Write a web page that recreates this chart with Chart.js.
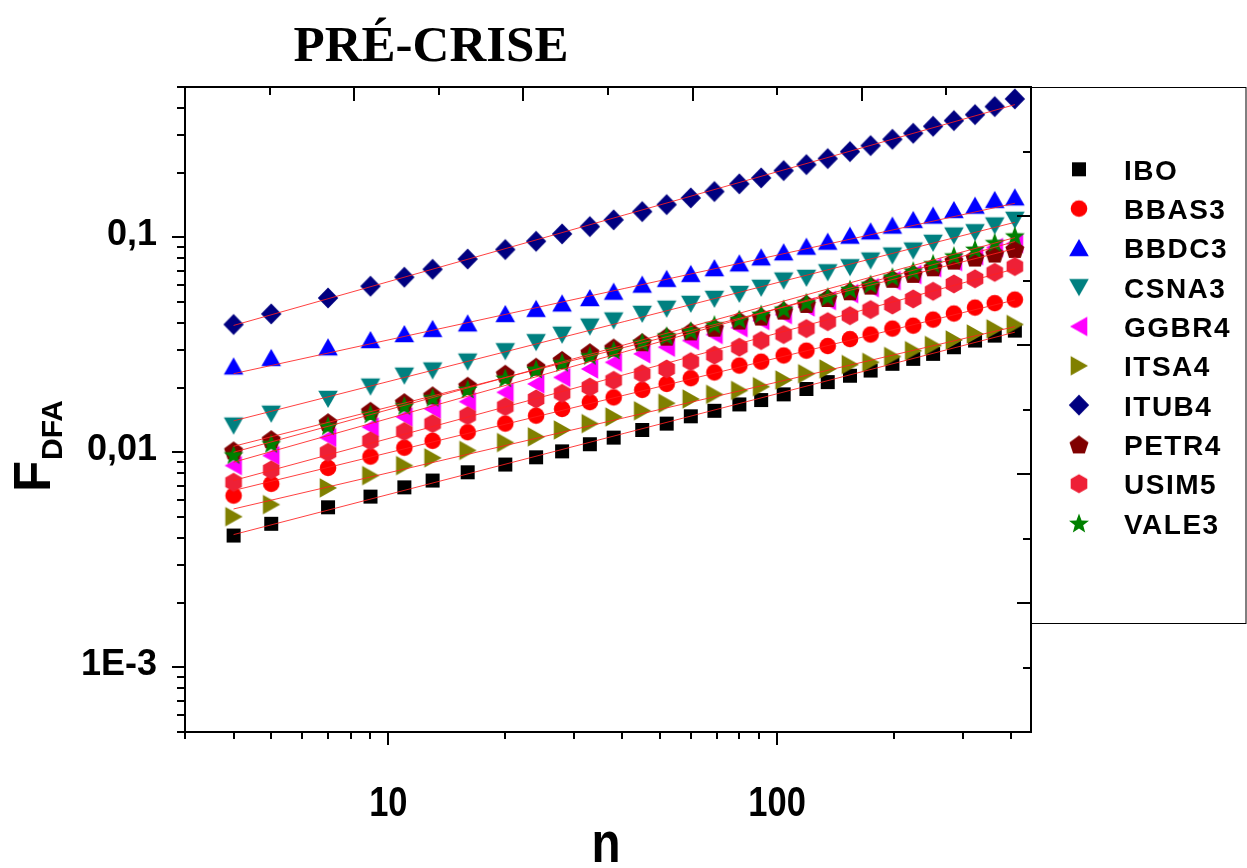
<!DOCTYPE html>
<html>
<head>
<meta charset="utf-8">
<title>PRÉ-CRISE</title>
<script src="https://cdn.jsdelivr.net/npm/chart.js@4.4.0/dist/chart.umd.min.js"></script>
<style>
  html, body { margin: 0; padding: 0; background: #fff; }
  canvas { display: block; }
</style>
</head>
<body>
<canvas id="dfaChart" width="1247" height="868"></canvas>
<script>
// box sizes n
var boxSizes = [4, 5, 7, 9, 11, 13, 16, 20, 24, 28, 33, 38, 45, 52, 60, 69, 80, 91, 104, 119, 135, 154, 174, 198, 224, 252, 285, 323, 363, 409];

// F_DFA for each asset
var IBO   = [0.00410, 0.00465, 0.00555, 0.00622, 0.00687, 0.00739, 0.00807, 0.00877, 0.00948, 0.0101, 0.0109, 0.0117, 0.0127, 0.0136, 0.0147, 0.0156, 0.0167, 0.0175, 0.0186, 0.0197, 0.0212, 0.0227, 0.0240, 0.0258, 0.0272, 0.0287, 0.0308, 0.0331, 0.0349, 0.0368];
var BBAS3 = [0.00629, 0.00713, 0.00846, 0.00955, 0.0105, 0.0113, 0.0124, 0.0136, 0.0148, 0.0159, 0.0171, 0.0180, 0.0195, 0.0208, 0.0221, 0.0235, 0.0253, 0.0264, 0.0282, 0.0297, 0.0312, 0.0336, 0.0353, 0.0376, 0.0388, 0.0414, 0.0442, 0.0471, 0.0494, 0.0513];
var BBDC3 = [0.0251, 0.0275, 0.0308, 0.0333, 0.0355, 0.0375, 0.0398, 0.0440, 0.0465, 0.0493, 0.0522, 0.0559, 0.0603, 0.0641, 0.0676, 0.0719, 0.0757, 0.0807, 0.0852, 0.0905, 0.0955, 0.1018, 0.1066, 0.1134, 0.1205, 0.1262, 0.1341, 0.1404, 0.1493, 0.1535];
var CSNA3 = [0.0133, 0.0151, 0.0177, 0.0202, 0.0227, 0.0240, 0.0264, 0.0295, 0.0325, 0.0352, 0.0384, 0.0410, 0.0440, 0.0465, 0.0490, 0.0517, 0.0545, 0.0582, 0.0629, 0.0647, 0.0687, 0.0725, 0.0779, 0.0822, 0.0867, 0.0942, 0.1018, 0.1055, 0.1134, 0.1205];
var GGBR4 = [0.00867, 0.00965, 0.0117, 0.0131, 0.0146, 0.0159, 0.0172, 0.0190, 0.0208, 0.0223, 0.0244, 0.0262, 0.0287, 0.0308, 0.0331, 0.0353, 0.0380, 0.0410, 0.0437, 0.0474, 0.0508, 0.0547, 0.0583, 0.0629, 0.0671, 0.0723, 0.0771, 0.0822, 0.0896, 0.0935];
var ITSA4 = [0.00502, 0.00571, 0.00683, 0.00779, 0.00867, 0.00942, 0.0102, 0.0111, 0.0118, 0.0127, 0.0136, 0.0146, 0.0156, 0.0169, 0.0177, 0.0186, 0.0194, 0.0202, 0.0217, 0.0232, 0.0244, 0.0256, 0.0262, 0.0279, 0.0297, 0.0314, 0.0333, 0.0355, 0.0375, 0.0393];
var ITUB4 = [0.0393, 0.0440, 0.0522, 0.0592, 0.0652, 0.0710, 0.0792, 0.0877, 0.0958, 0.1037, 0.1121, 0.1205, 0.1317, 0.1419, 0.1525, 0.1632, 0.1772, 0.1889, 0.2043, 0.2178, 0.2323, 0.2503, 0.2670, 0.2857, 0.3045, 0.3283, 0.3490, 0.3721, 0.4054, 0.4402];
var PETR4 = [0.0102, 0.0115, 0.0138, 0.0156, 0.0171, 0.0184, 0.0204, 0.0232, 0.0250, 0.0269, 0.0292, 0.0307, 0.0325, 0.0345, 0.0365, 0.0380, 0.0410, 0.0428, 0.0456, 0.0490, 0.0522, 0.0561, 0.0596, 0.0641, 0.0676, 0.0725, 0.0779, 0.0805, 0.0840, 0.0883];
var USIM5 = [0.00725, 0.00828, 0.0100, 0.0113, 0.0125, 0.0136, 0.0148, 0.0163, 0.0177, 0.0188, 0.0201, 0.0216, 0.0232, 0.0244, 0.0264, 0.0283, 0.0308, 0.0331, 0.0353, 0.0376, 0.0405, 0.0432, 0.0461, 0.0484, 0.0517, 0.0561, 0.0607, 0.0641, 0.0687, 0.0731];
var VALE3 = [0.00976, 0.0110, 0.0133, 0.0151, 0.0165, 0.0180, 0.0197, 0.0222, 0.0244, 0.0262, 0.0282, 0.0299, 0.0325, 0.0349, 0.0368, 0.0393, 0.0417, 0.0440, 0.0465, 0.0499, 0.0530, 0.0575, 0.0607, 0.0656, 0.0700, 0.0757, 0.0822, 0.0883, 0.0948, 0.1018];

var seriesNames  = ['IBO', 'BBAS3', 'BBDC3', 'CSNA3', 'GGBR4', 'ITSA4', 'ITUB4', 'PETR4', 'USIM5', 'VALE3'];
var seriesValues = [IBO, BBAS3, BBDC3, CSNA3, GGBR4, ITSA4, ITUB4, PETR4, USIM5, VALE3];
var seriesColors = ['#000000', '#ff0000', '#0000ff', '#008080', '#ff00ff', '#808000', '#000080', '#800000', '#ee2036', '#008000'];
var seriesShapes = ['square', 'circle', 'triUp', 'triDown', 'triLeft', 'triRight', 'diamond', 'pentagon', 'hexagon', 'star'];

// linear fits (log-log), value at first and last n
var fitStart = [0.00414, 0.00664, 0.0232, 0.0140, 0.00899, 0.00545, 0.0389, 0.01066, 0.00739, 0.0100];
var fitEnd   = [0.0362, 0.0511, 0.1439, 0.1174, 0.0955, 0.0384, 0.414, 0.0886, 0.0713, 0.0997];

var xLabelValues = [10, 100];
var xLabels = ['10', '100'];
var yLabelValues = [0.1, 0.01, 0.001];
var yLabels = ['0,1', '0,01', '1E-3'];

function makeMarker(shape, color) {
    var c = document.createElement('canvas');
    c.width = 26; c.height = 26;
    var g = c.getContext('2d');
    g.fillStyle = color;
    g.translate(13, 13);
    g.beginPath();
    var i, a;
    if (shape == 'square') {
        g.rect(-7, -7, 14, 14);
    } else if (shape == 'circle') {
        g.arc(0, 0, 8.3, 0, Math.PI * 2);
    } else if (shape == 'triUp') {
        g.moveTo(0, -9); g.lineTo(9.8, 8.3); g.lineTo(-9.8, 8.3);
    } else if (shape == 'triDown') {
        g.moveTo(0, 9); g.lineTo(9.8, -8.3); g.lineTo(-9.8, -8.3);
    } else if (shape == 'triLeft') {
        g.moveTo(-9, 0); g.lineTo(8.3, -9.8); g.lineTo(8.3, 9.8);
    } else if (shape == 'triRight') {
        g.moveTo(9, 0); g.lineTo(-8.3, -9.8); g.lineTo(-8.3, 9.8);
    } else if (shape == 'diamond') {
        g.moveTo(0, -10.5); g.lineTo(10.2, 0); g.lineTo(0, 10.5); g.lineTo(-10.2, 0);
    } else if (shape == 'pentagon') {
        for (i = 0; i < 5; i++) {
            a = -Math.PI / 2 + i * 2 * Math.PI / 5;
            g.lineTo(10 * Math.cos(a), 1 + 10 * Math.sin(a));
        }
    } else if (shape == 'hexagon') {
        for (i = 0; i < 6; i++) {
            a = -Math.PI / 2 + i * Math.PI / 3;
            g.lineTo(9.6 * Math.cos(a), 9.6 * Math.sin(a));
        }
    } else if (shape == 'star') {
        for (i = 0; i < 10; i++) {
            a = -Math.PI / 2 + i * Math.PI / 5;
            var r = (i % 2 == 0) ? 10.5 : 4.4;
            g.lineTo(r * Math.cos(a), 1 + r * Math.sin(a));
        }
    }
    g.closePath();
    g.fill();
    return c;
}

var datasets = [];
for (var s = 0; s < seriesNames.length; s++) {
    datasets.push({
        type: 'scatter',
        label: seriesNames[s],
        data: boxSizes.map(function (n, k) { return { x: n, y: seriesValues[s][k] }; }),
        pointStyle: makeMarker(seriesShapes[s], seriesColors[s]),
        order: seriesNames.length - s
    });
}
for (var f = 0; f < seriesNames.length; f++) {
    datasets.push({
        type: 'line',
        label: seriesNames[f] + ' fit',
        data: [{ x: boxSizes[0], y: fitStart[f] }, { x: boxSizes[boxSizes.length - 1], y: fitEnd[f] }],
        borderColor: 'rgba(255,30,30,0.85)',
        borderWidth: 1,
        pointRadius: 0,
        fill: false,
        order: 0
    });
}

function tickLine(ctx, x1, y1, x2, y2) {
    ctx.beginPath();
    ctx.moveTo(x1, y1);
    ctx.lineTo(x2, y2);
    ctx.stroke();
}

// axes, ticks, labels, title and legend box
var frame = {
    id: 'frame',
    afterDraw: function (chart) {
        var ctx = chart.ctx, a = chart.chartArea;
        var xs = chart.scales.x, ys = chart.scales.y, xt = chart.scales.xTop, yr = chart.scales.yRight;
        var L = Math.round(a.left), R = Math.round(a.right), T = Math.round(a.top), B = Math.round(a.bottom);
        ctx.save();
        ctx.strokeStyle = '#000';
        ctx.lineWidth = 2;
        ctx.strokeRect(L, T, R - L, B - T);

        // bottom log ticks (outward)
        var d, m, v, p;
        for (d = 1; d <= 100; d *= 10) {
            for (m = 1; m <= 9; m++) {
                v = m * d;
                if (v < xs.min || v > xs.max) continue;
                p = Math.round(xs.getPixelForValue(v));
                tickLine(ctx, p, B, p, B + (m == 1 ? 13 : 7));
            }
        }
        // left log ticks (outward)
        for (d = 0.0001; d <= 0.1; d *= 10) {
            for (m = 1; m <= 9; m++) {
                v = m * d;
                if (v < ys.min * 0.999 || v > ys.max * 1.001) continue;
                p = Math.round(ys.getPixelForValue(v));
                tickLine(ctx, L, p, L - (m == 1 ? 13 : 8), p);
            }
        }
        // top and right ticks (inward)
        for (var k = 1; k < 10; k++) {
            p = Math.round(xt.getPixelForValue(k));
            tickLine(ctx, p, T, p, T + (k % 2 == 0 ? 14 : 8));
            p = Math.round(yr.getPixelForValue(k));
            tickLine(ctx, R, p, R - (k % 2 == 0 ? 14 : 8), p);
        }

        ctx.fillStyle = '#000';
        // y tick labels
        ctx.font = 'bold 36px "Liberation Sans", Arial, sans-serif';
        ctx.textAlign = 'right';
        ctx.textBaseline = 'alphabetic';
        for (var i = 0; i < yLabels.length; i++) {
            p = ys.getPixelForValue(yLabelValues[i]);
            ctx.fillText(yLabels[i], 157, p + 8);
        }
        // x tick labels (condensed)
        ctx.textAlign = 'center';
        ctx.font = 'bold 42px "Liberation Sans", Arial, sans-serif';
        for (i = 0; i < xLabels.length; i++) {
            p = xs.getPixelForValue(xLabelValues[i]);
            ctx.save();
            ctx.translate(p, 816);
            ctx.scale(0.82, 1);
            ctx.fillText(xLabels[i], 0, 0);
            ctx.restore();
        }
        // x title
        ctx.save();
        ctx.font = 'bold 58px "Liberation Sans", Arial, sans-serif';
        ctx.translate(606, 862);
        ctx.scale(0.82, 1);
        ctx.fillText('n', 0, 0);
        ctx.restore();

        // y title F_DFA
        ctx.save();
        ctx.textAlign = 'left';
        ctx.font = 'bold 51px "Liberation Sans", Arial, sans-serif';
        ctx.translate(50, 492);
        ctx.rotate(-Math.PI / 2);
        ctx.fillText('F', 0, 0);
        ctx.restore();
        ctx.save();
        ctx.textAlign = 'left';
        ctx.font = 'bold 30px "Liberation Sans", Arial, sans-serif';
        ctx.translate(62, 460);
        ctx.rotate(-Math.PI / 2);
        ctx.fillText('DFA', 0, 0);
        ctx.restore();

        // title
        ctx.textAlign = 'center';
        ctx.font = 'bold 51px "Liberation Serif", "Times New Roman", serif';
        ctx.fillText('PRÉ-CRISE', 431, 61);

        // legend
        ctx.lineWidth = 1;
        ctx.strokeRect(R + 0.5, T + 0.5, chart.width - R - 1.5, 623 - T);
        ctx.textAlign = 'left';
        ctx.font = 'bold 28px "Liberation Sans", Arial, sans-serif';
        ctx.letterSpacing = '1.5px';
        for (i = 0; i < seriesNames.length; i++) {
            var rowY = 169.3 + i * 39.3;
            var img = chart.data.datasets[i].pointStyle;
            ctx.drawImage(img, 1079 - img.width / 2, rowY - img.height / 2);
            ctx.fillText(seriesNames[i], 1124, rowY + 10.5);
        }
        ctx.restore();
    }
};

new Chart(document.getElementById('dfaChart'), {
    type: 'scatter',
    data: { datasets: datasets },
    options: {
        responsive: false,
        animation: false,
        events: [],
        layout: { padding: { left: 185, top: 87, right: 216, bottom: 136 } },
        plugins: {
            legend: { display: false },
            tooltip: { enabled: false },
            title: { display: false }
        },
        scales: {
            x: { type: 'logarithmic', min: 3, max: 450, display: false },
            y: { type: 'logarithmic', min: 0.0005, max: 0.5, display: false },
            xTop: { type: 'linear', position: 'top', axis: 'x', min: 0, max: 10, display: false },
            yRight: { type: 'linear', position: 'right', axis: 'y', min: 0, max: 10, display: false }
        }
    },
    plugins: [frame]
});
</script>
</body>
</html>
